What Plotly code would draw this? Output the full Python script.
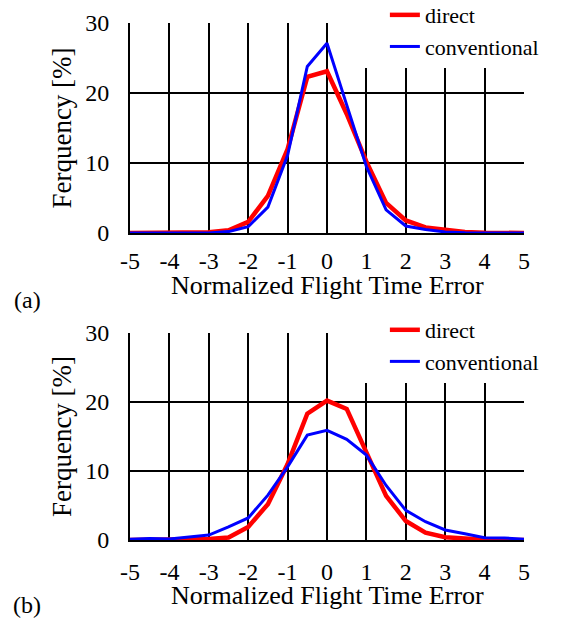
import plotly.graph_objects as go
from plotly.subplots import make_subplots

x_vals = [-5, -4.5, -4, -3.5, -3, -2.5, -2, -1.5, -1, -0.5, 0, 0.5, 1, 1.5, 2, 2.5, 3, 3.5, 4, 4.5, 5]

a_direct = [0, 0, 0, 0, 0.1, 0.4, 1.6, 5.3, 12.0, 22.3, 23.1, 17.0, 10.2, 4.3, 1.8, 0.8, 0.4, 0.15, 0.05, 0, 0]
a_conv = [0, 0, 0, 0, 0, 0.2, 0.9, 3.7, 11.1, 23.8, 27.1, 18.3, 9.5, 3.3, 1.0, 0.5, 0.15, 0.05, 0, 0, 0]

b_direct = [0, 0, 0.05, 0.1, 0.15, 0.35, 1.9, 5.2, 11.0, 18.3, 20.2, 19.0, 12.5, 6.4, 2.75, 1.06, 0.4, 0.15, 0.05, 0, 0]
b_conv = [0.1, 0.2, 0.15, 0.4, 0.72, 1.9, 3.2, 6.5, 10.6, 15.2, 15.9, 14.6, 12.3, 7.9, 4.3, 2.65, 1.45, 0.9, 0.34, 0.3, 0.1]

x_ticks = [-5, -4, -3, -2, -1, 0, 1, 2, 3, 4, 5]
y_ticks = [0, 10, 20, 30]

FONT = "Liberation Serif"
RED = "#ff0000"
BLUE = "#0000ff"

fig = make_subplots(rows=2, cols=1)

fig.add_trace(go.Scatter(x=x_vals, y=a_direct, mode="lines", name="direct",
                         line=dict(color=RED, width=4.5), legend="legend"), row=1, col=1)
fig.add_trace(go.Scatter(x=x_vals, y=a_conv, mode="lines", name="conventional",
                         line=dict(color=BLUE, width=3), legend="legend"), row=1, col=1)
fig.add_trace(go.Scatter(x=x_vals, y=b_direct, mode="lines", name="direct",
                         line=dict(color=RED, width=4.5), legend="legend2"), row=2, col=1)
fig.add_trace(go.Scatter(x=x_vals, y=b_conv, mode="lines", name="conventional",
                         line=dict(color=BLUE, width=3), legend="legend2"), row=2, col=1)

grid_style = dict(showgrid=True, gridcolor="black", gridwidth=2,
                  showline=True, linecolor="black", linewidth=2,
                  zeroline=False, ticks="outside", tickcolor="rgba(0,0,0,0)",
                  tickfont=dict(family=FONT, size=24, color="black"))

for r, tl in ((1, 5), (2, 9)):
    fig.update_xaxes(range=[-5, 5], tickvals=x_ticks, ticktext=[str(t) for t in x_ticks],
                     ticklen=tl, row=r, col=1, **grid_style)
    fig.update_yaxes(range=[0, 30], tickvals=y_ticks, ticklen=14,
                     title=dict(text="Ferquency [%]",
                                font=dict(family=FONT, size=27, color="black"), standoff=6),
                     row=r, col=1, **grid_style)

legend_common = dict(xanchor="left", yanchor="top", bgcolor="white",
                     font=dict(family=FONT, size=22, color="black"),
                     tracegroupgap=0, itemwidth=30, indentation=37)

fig.update_layout(
    template="none",
    yaxis=dict(domain=[0.5685, 0.9574]),
    yaxis2=dict(domain=[0.0, 0.3833]),
    width=578, height=618,
    margin=dict(l=130, r=54, t=0, b=78, autoexpand=False),
    plot_bgcolor="white", paper_bgcolor="white",
    legend=dict(x=0.553, y=1.011, **legend_common),
    legend2=dict(x=0.553, y=0.4278, **legend_common),
    annotations=[
        dict(text="Normalized Flight Time Error", xref="paper", yref="paper", x=0.5, y=0.4722,
             showarrow=False, font=dict(family=FONT, size=26, color="black"),
             xanchor="center", yanchor="middle"),
        dict(text="Normalized Flight Time Error", xref="paper", yref="paper", x=0.5, y=-0.1037,
             showarrow=False, font=dict(family=FONT, size=26, color="black"),
             xanchor="center", yanchor="middle"),
        dict(text="(a)", xref="paper", yref="paper", x=-0.261, y=0.444,
             showarrow=False, font=dict(family=FONT, size=24, color="black"),
             xanchor="center", yanchor="middle"),
        dict(text="(b)", xref="paper", yref="paper", x=-0.261, y=-0.120,
             showarrow=False, font=dict(family=FONT, size=24, color="black"),
             xanchor="center", yanchor="middle"),
    ],
)

fig.write_html("out.html")
